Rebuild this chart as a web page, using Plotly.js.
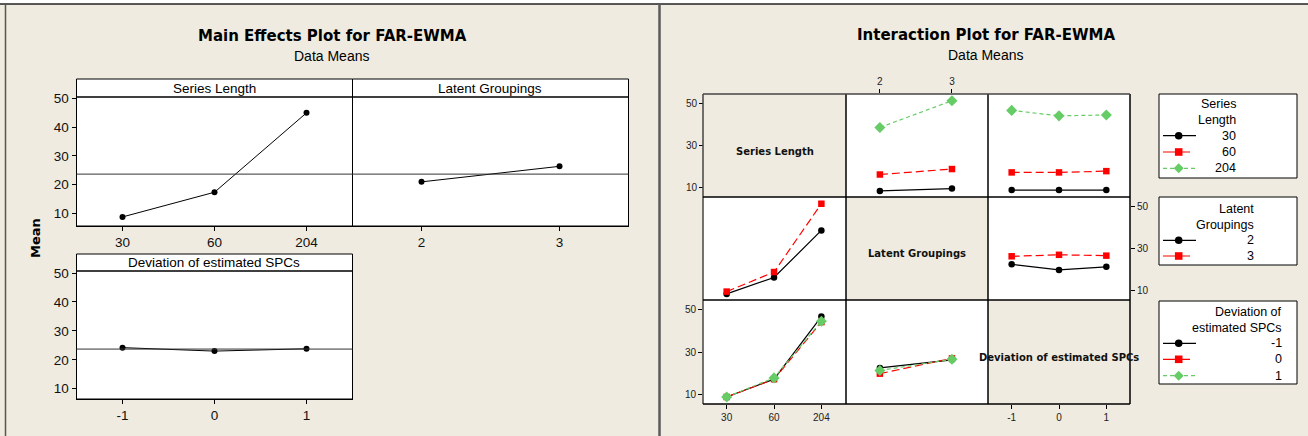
<!DOCTYPE html>
<html><head><meta charset="utf-8">
<script src="https://cdn.plot.ly/plotly-3.0.1.min.js"></script>
<style>html,body{margin:0;padding:0;background:#efebe0;}#chart{width:1308px;height:436px;}</style>
</head><body><div id="chart"></div>
<script>
// ---------------- data ----------------
const seriesLengthLevels = ['30', '60', '204'];
const latentGroupLevels = ['2', '3'];
const deviationLevels = ['-1', '0', '1'];

const meanSeriesLength = [8.8, 17.4, 45.0];
const meanLatentGroups = [21.0, 26.4];
const meanDeviation = [24.2, 23.0, 23.8];
const grandMean = 23.7;

// Series Length x Latent Groupings (values at LG = 2, 3)
const slByLg_30 = [8.4, 9.5];
const slByLg_60 = [16.2, 18.8];
const slByLg_204 = [38.6, 51.3];
// Series Length x Deviation (values at Dev = -1, 0, 1)
const slByDev_30 = [8.8, 8.8, 8.8];
const slByDev_60 = [17.2, 17.2, 17.8];
const slByDev_204 = [46.7, 44.1, 44.5];
// Latent Groupings x Deviation (values at Dev = -1, 0, 1)
const lgByDev_2 = [22.5, 19.8, 21.3];
const lgByDev_3 = [26.3, 27.0, 26.6];

const yTicksMain = [10, 20, 30, 40, 50];
const yTicksInter = [10, 30, 50];

// ---------------- helpers ----------------
const W = 1308, H = 436;
const px = v => v / W, py = v => 1 - v / H;
const FD = '"DejaVu Sans", Verdana, sans-serif';
const FL = '"Liberation Sans", Arial, sans-serif';
const styles = [
  {color: '#000000', dash: 'solid', legDash: 'solid', symbol: 'circle', size: 6.5},
  {color: '#ff0000', dash: '8px,4px', legDash: '12px,3px', symbol: 'square', size: 6.5},
  {color: '#66cc66', dash: '4px,3px', legDash: '4px,3px', symbol: 'diamond', size: 8.5}
];

const traces = [];
function mainTrace(xs, ys, xa, ya) {
  traces.push({x: xs, y: ys, xaxis: xa, yaxis: ya, type: 'scatter', mode: 'lines+markers',
    line: {color: '#000', width: 1}, marker: {color: '#000', size: 6}, showlegend: false});
}
function interTrace(xs, ys, xa, ya, s) {
  const st = styles[s];
  traces.push({x: xs, y: ys, xaxis: xa, yaxis: ya, type: 'scatter', mode: 'lines+markers',
    line: {color: st.color, width: 1.2, dash: st.dash},
    marker: {color: st.color, size: st.size, symbol: st.symbol}, showlegend: false});
}

// main effects
mainTrace(seriesLengthLevels, meanSeriesLength, 'x', 'y');
mainTrace(latentGroupLevels, meanLatentGroups, 'x2', 'y2');
mainTrace(deviationLevels, meanDeviation, 'x3', 'y3');

// interaction
const slByLg = [slByLg_30, slByLg_60, slByLg_204];
const slByDev = [slByDev_30, slByDev_60, slByDev_204];
const lgByDev = [lgByDev_2, lgByDev_3];
slByLg.forEach((r, i) => interTrace(latentGroupLevels, r, 'x4', 'y4', i));
slByDev.forEach((r, i) => interTrace(deviationLevels, r, 'x5', 'y5', i));
latentGroupLevels.forEach((g, j) => interTrace(seriesLengthLevels, slByLg.map(r => r[j]), 'x6', 'y6', j));
lgByDev.forEach((r, j) => interTrace(deviationLevels, r, 'x7', 'y7', j));
deviationLevels.forEach((d, k) => interTrace(seriesLengthLevels, slByDev.map(r => r[k]), 'x8', 'y8', k));
deviationLevels.forEach((d, k) => interTrace(latentGroupLevels, lgByDev.map(r => r[k]), 'x9', 'y9', k));

// ---------------- layout ----------------
const base = {showgrid: false, zeroline: false, fixedrange: true, automargin: false};
function mainX(x0, x1, anchor, range, mirror) {
  return Object.assign({}, base, {domain: [px(x0), px(x1)], anchor, type: 'category', range,
    showline: true, mirror: mirror, linecolor: '#000', linewidth: 1,
    ticks: 'outside', ticklen: 4, tickcolor: '#000', tickfont: {family: FL, size: 13.5, color: '#111'}});
}
function mainY(y0, y1, anchor, range, labels, mirror) {
  return Object.assign({}, base, {domain: [py(y1), py(y0)], anchor, range, tickvals: yTicksMain,
    showline: labels, mirror: mirror, linecolor: '#000', linewidth: 1,
    ticks: labels ? 'outside' : '', ticklen: 4, tickcolor: '#000', showticklabels: labels,
    tickfont: {family: FL, size: 13.5, color: '#111'}});
}
const cols = [[703, 846], [846, 988], [988, 1130]];
const rows = [[94, 197], [197, 300], [300, 404]];
const xrSL = [-0.5, 2.52], xrLG = [-0.47, 1.5], xrDev = [-0.5, 2.5];
const yrI = [5.5, 54.5];
const tfI = {family: FL, size: 10, color: '#222'};
function iX(c, anchor, range, show, extra) {
  return Object.assign({}, base, {domain: [px(cols[c][0]), px(cols[c][1])], anchor, type: 'category', range,
    showline: false, ticks: show ? 'outside' : '', ticklen: 4, tickcolor: '#000',
    showticklabels: show, tickfont: tfI}, extra || {});
}
function iY(r, anchor, show, extra) {
  return Object.assign({}, base, {domain: [py(rows[r][1]), py(rows[r][0])], anchor, range: yrI,
    tickvals: yTicksInter, showline: false, ticks: show ? 'outside' : '', ticklen: 4, tickcolor: '#000',
    showticklabels: show, tickfont: tfI}, extra || {});
}

const shapes = [];
function line(x0, y0, x1, y1, color, width, dash) {
  shapes.push({type: 'line', xref: 'paper', yref: 'paper', x0: px(x0), y0: py(y0), x1: px(x1), y1: py(y1),
    line: {color, width, dash: dash || 'solid'}});
}
function rect(x0, y0, x1, y1, fill, lc, lw, layer) {
  shapes.push({type: 'rect', xref: 'paper', yref: 'paper', x0: px(x0), y0: py(y0), x1: px(x1), y1: py(y1),
    fillcolor: fill, line: {color: lc, width: lw}, layer: layer || 'above'});
}
// outer frames
rect(0, 0, 1308, 4, '#ffffff', 'rgba(0,0,0,0)', 0, 'below');
line(0, 4, 1308, 4, '#222', 1.5);
line(5.5, 4, 5.5, 436, '#555', 1.5);
line(659.5, 4, 659.5, 436, '#5a5a5a', 2.5);

// main effect strips
rect(76.5, 79, 352.5, 97, '#ffffff', '#000', 1);
rect(352.5, 79, 628.5, 97, '#ffffff', '#000', 1);
rect(76.5, 254, 352.5, 271, '#ffffff', '#000', 1);
// panel frames
rect(76.5, 97, 352.5, 226, 'rgba(0,0,0,0)', '#000', 1);
rect(352.5, 97, 628.5, 226, 'rgba(0,0,0,0)', '#000', 1);
rect(76.5, 271, 352.5, 399, 'rgba(0,0,0,0)', '#000', 1);
// reference lines at grand mean
[['x', 'y'], ['x2', 'y2'], ['x3', 'y3']].forEach(([xa, ya]) => {
  shapes.push({type: 'line', xref: xa + ' domain', yref: ya, x0: 0, x1: 1, y0: grandMean, y1: grandMean,
    line: {color: '#333', width: 1}});
});

// interaction grid
[703, 846, 988, 1130].forEach(x => line(x, 94, x, 404, x === 703 ? '#444' : '#000', 1.5));
[94, 197, 300, 404].forEach(y => line(703, y, 1130, y, y === 94 ? '#444' : '#000', 1.5));

const annotations = [];
function txt(x, y, t, size, opts) {
  annotations.push(Object.assign({xref: 'paper', yref: 'paper', x: px(x), y: py(y), text: t, showarrow: false,
    xanchor: 'center', yanchor: 'middle', font: {family: FL, size, color: '#000'}}, opts || {}));
}
// titles
txt(332, 36, '<b>Main Effects Plot for FAR-EWMA</b>', 15, {font: {family: FD, size: 15, color: '#000'}});
txt(331, 56, 'Data Means', 14);
txt(985.5, 35, '<b>Interaction Plot for FAR-EWMA</b>', 15, {font: {family: FD, size: 15, color: '#000'}});
txt(985, 55, 'Data Means', 14);
txt(214, 88, 'Series Length', 13.5);
txt(490, 88, 'Latent Groupings', 13.5);
txt(214, 262.5, 'Deviation of estimated SPCs', 13.5);
txt(36, 238, '<b>Mean</b>', 13, {textangle: -90, font: {family: FD, size: 13, color: '#000'}});
// diagonal labels
const dF = {family: FD, size: 10, color: '#111'};
txt(774.5, 151, '<b>Series Length</b>', 10, {font: dF});
txt(917, 254, '<b>Latent Groupings</b>', 10, {font: dF});
txt(1059, 357.5, '<b>Deviation of estimated SPCs</b>', 10, {font: dF});

// legends (drawn boxes)
const legends = [
  {box: [94, 178], title: ['Series', 'Length'], titleY: [104.5, 120], labels: seriesLengthLevels, itemY: [135.7, 152, 168.3], right: 1238},
  {box: [197, 265], title: ['Latent', 'Groupings'], titleY: [209, 225], labels: latentGroupLevels, itemY: [240.3, 256], right: 1256},
  {box: [301, 384], title: ['Deviation of', 'estimated SPCs'], titleY: [312.3, 328.3], labels: deviationLevels, itemY: [343.3, 359.3, 375.7], right: 1284}
];
legends.forEach(lg => {
  rect(1159, lg.box[0], 1297, lg.box[1], '#ffffff', '#000', 1);
  lg.title.forEach((t, i) => txt(lg.right, lg.titleY[i], t, 12.5, {xanchor: 'right'}));
  lg.labels.forEach((t, i) => {
    const y = lg.itemY[i], st = styles[i], cx = 1178.7;
    line(1163, y, i === 1 ? 1192 : 1196, y, st.color, 1.2, st.legDash);
    if (st.symbol === 'circle') {
      shapes.push({type: 'circle', xref: 'paper', yref: 'paper', x0: px(cx - 3.8), x1: px(cx + 3.8), y0: py(y + 3.8), y1: py(y - 3.8), fillcolor: st.color, line: {color: st.color, width: 0}});
    } else if (st.symbol === 'square') {
      rect(cx - 3.8, y - 3.8, cx + 3.8, y + 3.8, st.color, st.color, 0);
    } else {
      const d = 5;
      shapes.push({type: 'path', xref: 'paper', yref: 'paper',
        path: `M ${px(cx - d)} ${py(y)} L ${px(cx)} ${py(y - d)} L ${px(cx + d)} ${py(y)} L ${px(cx)} ${py(y + d)} Z`,
        fillcolor: st.color, line: {color: st.color, width: 0}});
    }
    txt(lg.right, y, t, 12.5, {xanchor: 'right'});
  });
});

const layout = {
  width: W, height: H, margin: {l: 0, r: 0, t: 0, b: 0, pad: 0},
  paper_bgcolor: '#efebe0', plot_bgcolor: '#ffffff', showlegend: false,
  font: {family: FL, color: '#000'},
  xaxis: mainX(76.5, 352.5, 'y', [-0.5, 2.5], false),
  yaxis: mainY(97, 226, 'x', [5.65, 50.52], true, false),
  xaxis2: mainX(352.5, 628.5, 'y2', [-0.5, 1.5], false),
  yaxis2: mainY(97, 226, 'x2', [5.65, 50.52], false, false),
  xaxis3: mainX(76.5, 352.5, 'y3', [-0.5, 2.5], false),
  yaxis3: mainY(271, 399, 'x3', [6.44, 50.69], true, false),
  xaxis4: iX(1, 'y4', xrLG, true, {side: 'top'}),
  yaxis4: iY(0, 'free', true, {position: px(703)}),
  xaxis5: iX(2, 'y5', xrDev, false),
  yaxis5: iY(0, 'x5', false),
  xaxis6: iX(0, 'y6', xrSL, false),
  yaxis6: iY(1, 'x6', false),
  xaxis7: iX(2, 'free', xrDev, true, {position: py(404)}),
  yaxis7: iY(1, 'x7', true, {side: 'right'}),
  xaxis8: iX(0, 'y8', xrSL, true),
  yaxis8: iY(2, 'x8', true),
  xaxis9: iX(1, 'y9', xrLG, false),
  yaxis9: iY(2, 'x9', false),
  shapes, annotations
};
Plotly.newPlot('chart', traces, layout, {staticPlot: true, displayModeBar: false});
</script></body></html>
